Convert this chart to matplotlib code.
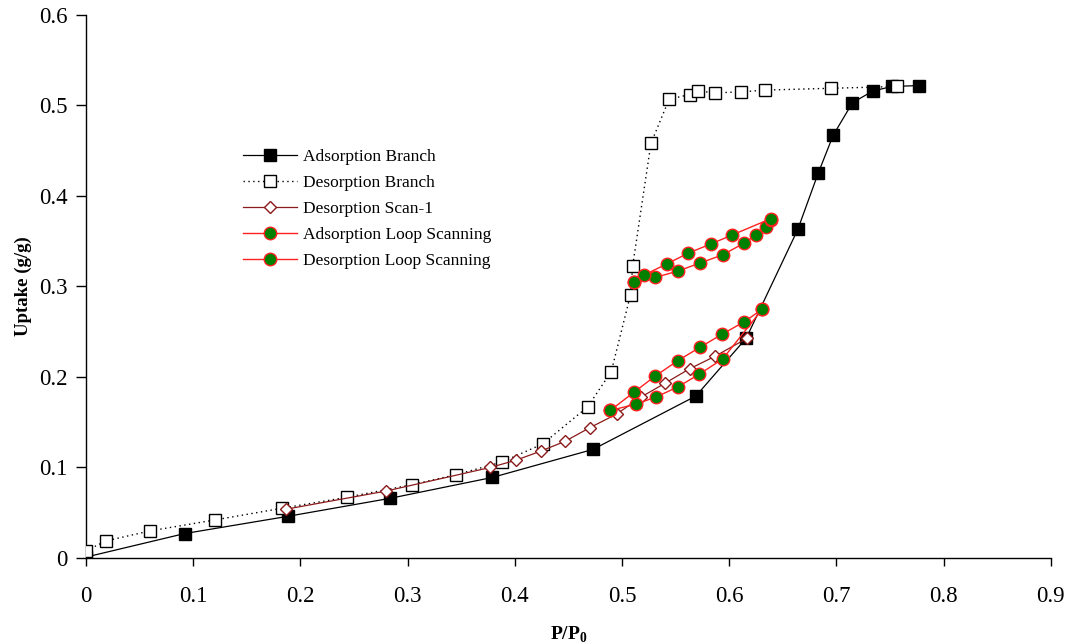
import matplotlib
matplotlib.use("Agg")
import matplotlib.pyplot as plt

plt.rcParams['font.family'] = ['Liberation Serif', 'DejaVu Serif']
plt.rcParams['mathtext.fontset'] = 'custom'
plt.rcParams['mathtext.rm'] = 'Liberation Serif'
plt.rcParams['mathtext.bf'] = 'Liberation Serif:bold'

# Adsorption branch (filled squares)
ads_x = [0.0, 0.092, 0.188, 0.284, 0.379, 0.473, 0.569, 0.616, 0.664, 0.683, 0.697, 0.715, 0.734, 0.752, 0.777]
ads_y = [0.001, 0.027, 0.046, 0.066, 0.089, 0.120, 0.179, 0.243, 0.363, 0.425, 0.467, 0.503, 0.516, 0.521, 0.522]

# Desorption branch (open squares)
des_x = [0.0, 0.019, 0.060, 0.120, 0.183, 0.243, 0.304, 0.345, 0.388, 0.426, 0.468, 0.490, 0.508, 0.510,
         0.527, 0.544, 0.563, 0.571, 0.587, 0.611, 0.633, 0.695, 0.757]
des_y = [0.008, 0.019, 0.030, 0.042, 0.055, 0.067, 0.081, 0.092, 0.106, 0.126, 0.167, 0.206, 0.291, 0.323,
         0.458, 0.507, 0.512, 0.516, 0.514, 0.515, 0.517, 0.519, 0.521]

# Desorption scan-1 (open diamonds)
scan1_x = [0.617, 0.587, 0.563, 0.540, 0.518, 0.495, 0.470, 0.447, 0.424, 0.401, 0.377, 0.280, 0.187]
scan1_y = [0.243, 0.223, 0.209, 0.193, 0.178, 0.159, 0.144, 0.129, 0.118, 0.108, 0.100, 0.074, 0.054]

# Adsorption loop scanning (two loops)
ads_loop1_x = [0.489, 0.513, 0.532, 0.552, 0.572, 0.594, 0.631]
ads_loop1_y = [0.163, 0.170, 0.178, 0.189, 0.203, 0.220, 0.275]
ads_loop2_x = [0.511, 0.531, 0.552, 0.573, 0.594, 0.614, 0.625, 0.634, 0.639]
ads_loop2_y = [0.305, 0.310, 0.317, 0.326, 0.335, 0.348, 0.357, 0.366, 0.373]

# Desorption loop scanning (two loops)
des_loop1_x = [0.631, 0.614, 0.593, 0.573, 0.552, 0.531, 0.511, 0.489]
des_loop1_y = [0.275, 0.261, 0.247, 0.233, 0.218, 0.201, 0.183, 0.163]
des_loop2_x = [0.639, 0.603, 0.583, 0.562, 0.542, 0.521, 0.511]
des_loop2_y = [0.375, 0.357, 0.347, 0.337, 0.325, 0.313, 0.305]

x_ticks = [0, 0.1, 0.2, 0.3, 0.4, 0.5, 0.6, 0.7, 0.8, 0.9]
x_labels = ['0', '0.1', '0.2', '0.3', '0.4', '0.5', '0.6', '0.7', '0.8', '0.9']
y_ticks = [0, 0.1, 0.2, 0.3, 0.4, 0.5, 0.6]
y_labels = ['0', '0.1', '0.2', '0.3', '0.4', '0.5', '0.6']

fig = plt.figure(figsize=(10.7, 6.43), dpi=100)
ax = fig.add_axes([0.0804, 0.1322, 0.9016, 0.8445])

ax.plot(ads_x, ads_y, '-', color='black', lw=0.9, marker='s', ms=8, mfc='black', mec='black',
        label='Adsorption Branch', zorder=3)
ax.plot(des_x, des_y, color='black', lw=1.0, linestyle=(0, (1, 2.5)), marker='s', ms=8.5, mfc='white',
        mec='black', mew=1.0, label='Desorption Branch', zorder=3)
ax.plot(scan1_x, scan1_y, '-', color='#8b1a1a', lw=0.9, marker='D', ms=6.5, mfc='white', mec='#8b1a1a',
        mew=1.0, label='Desorption Scan-1', zorder=4)

loop_kw = dict(color='#ff2020', lw=1.0, marker='o', ms=9, mfc='#008000', mec='#ff2020', mew=1.0, zorder=5)
ax.plot(ads_loop1_x, ads_loop1_y, label='Adsorption Loop Scanning', **loop_kw)
ax.plot(ads_loop2_x, ads_loop2_y, **loop_kw)
ax.plot(des_loop1_x, des_loop1_y, label='Desorption Loop Scanning', **loop_kw)
ax.plot(des_loop2_x, des_loop2_y, **loop_kw)

ax.set_xlim(0, 0.9)
ax.set_ylim(0, 0.6)
ax.set_xticks(x_ticks)
ax.set_xticklabels(x_labels)
ax.set_yticks(y_ticks)
ax.set_yticklabels(y_labels)
ax.spines['top'].set_visible(False)
ax.spines['right'].set_visible(False)
ax.spines['left'].set_linewidth(1.0)
ax.spines['bottom'].set_linewidth(1.0)
ax.tick_params(axis='x', direction='out', length=6, width=1.0, labelsize=16.5, pad=14)
ax.tick_params(axis='y', direction='out', length=7.5, width=1.0, labelsize=16.5, pad=6)

ax.set_xlabel('P/P$_\\mathbf{0}$', fontsize=14, fontweight='bold', va='top')
ax.xaxis.set_label_coords(0.5, -0.123)
ax.set_ylabel('Uptake (g/g)', fontsize=13.5, fontweight='bold')
ax.yaxis.set_label_coords(-0.056, 0.5)

ax.legend(loc='upper left', bbox_to_anchor=(0.156, 0.767), frameon=False, fontsize=12.5,
          handlelength=3.1, handletextpad=0.35, labelspacing=0.58, borderaxespad=0)

fig.savefig('out.png', dpi=100)
